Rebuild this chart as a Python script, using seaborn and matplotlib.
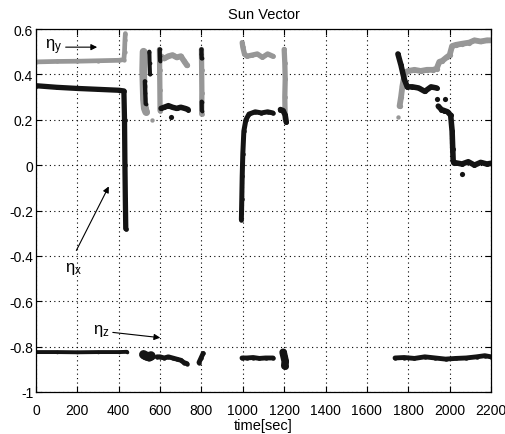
import matplotlib
matplotlib.use("Agg")
import matplotlib.pyplot as plt
import seaborn as sns
import pandas as pd

# ---------------- data ----------------
x_ticks = [0, 200, 400, 600, 800, 1000, 1200, 1400, 1600, 1800, 2000, 2200]
y_ticks = [-1, -0.8, -0.6, -0.4, -0.2, 0, 0.2, 0.4, 0.6]
y_tick_labels = ["-1", "-0.8", "-0.6", "-0.4", "-0.2", "0", "0.2", "0.4", "0.6"]

# eta_x (black)
ex_t1 = [0, 100, 200, 300, 400, 425, 428, 430, 432, 434]
ex_v1 = [0.350, 0.343, 0.338, 0.334, 0.330, 0.327, 0.20, 0.00, -0.15, -0.28]
ex_t2 = [548, 549, 551]
ex_v2 = [0.50, 0.45, 0.40]
ex_t3 = [526, 528, 530]
ex_v3 = [0.37, 0.32, 0.27]
ex_t4 = [598, 599, 600]
ex_v4 = [0.51, 0.48, 0.46]
ex_t5 = [605, 620, 640, 660, 680, 700, 720, 735]
ex_v5 = [0.25, 0.255, 0.262, 0.255, 0.25, 0.255, 0.25, 0.245]
ex_t6 = [800, 800, 801]
ex_v6 = [0.51, 0.49, 0.47]
ex_t7 = [801, 802]
ex_v7 = [0.28, 0.24]
ex_t8 = [993, 995, 997, 1000, 1005, 1015, 1030, 1060, 1090, 1120, 1145]
ex_v8 = [-0.24, -0.15, -0.05, 0.05, 0.15, 0.20, 0.225, 0.235, 0.23, 0.235, 0.23]
ex_t9 = [1182, 1195, 1205, 1210]
ex_v9 = [0.245, 0.24, 0.22, 0.19]
ex_t10 = [1750, 1765, 1780, 1795, 1820, 1850, 1880, 1910, 1937]
ex_v10 = [0.49, 0.44, 0.38, 0.345, 0.345, 0.34, 0.325, 0.345, 0.34]
ex_t11 = [1945, 1960, 1975, 1990, 2005, 2012, 2015, 2017, 2020, 2030, 2060, 2090,
          2120, 2150, 2180, 2200]
ex_v11 = [0.26, 0.245, 0.24, 0.235, 0.22, 0.15, 0.07, 0.02, 0.01, 0.01, 0.005, 0.015,
          0.0, 0.012, 0.005, 0.008]
ex_dot_t = [653, 1940, 1978, 2060]
ex_dot_v = [0.21, 0.29, 0.29, -0.04]

# eta_y (grey)
ey_t1 = [0, 100, 200, 300, 400, 425, 428, 430, 432]
ey_v1 = [0.455, 0.457, 0.458, 0.46, 0.462, 0.465, 0.50, 0.55, 0.58]
ey_t2 = [520, 518, 520, 522, 526, 532]
ey_v2 = [0.50, 0.42, 0.35, 0.29, 0.25, 0.235]
ey_t3 = [597, 598, 599, 600]
ey_v3 = [0.51, 0.42, 0.33, 0.24]
ey_t4 = [603, 620, 640, 660, 680, 700, 715, 730]
ey_v4 = [0.48, 0.47, 0.48, 0.485, 0.475, 0.48, 0.46, 0.44]
ey_t5 = [800, 801, 802, 801]
ey_v5 = [0.51, 0.42, 0.32, 0.225]
ey_t6 = [997, 1000, 1008, 1020, 1045, 1070, 1095, 1120, 1145]
ey_v6 = [0.54, 0.52, 0.49, 0.48, 0.485, 0.49, 0.475, 0.49, 0.48]
ey_t7 = [1200, 1203, 1205, 1203, 1205]
ey_v7 = [0.51, 0.45, 0.38, 0.30, 0.20]
ey_t8 = [1758, 1765, 1772, 1780, 1787, 1800, 1830, 1860, 1890, 1920, 1937, 1950, 1965,
         1985, 2000, 2012, 2030, 2060, 2095, 2120, 2150, 2180, 2200]
ey_v8 = [0.26, 0.30, 0.35, 0.39, 0.41, 0.415, 0.42, 0.415, 0.42, 0.42, 0.425, 0.455, 0.46,
         0.475, 0.485, 0.525, 0.53, 0.535, 0.54, 0.55, 0.545, 0.55, 0.55]
ey_dot_t = [560, 1750]
ey_dot_v = [0.20, 0.21]

# eta_z (black)
ez_t1 = [0, 100, 200, 300, 400, 440]
ez_v1 = [-0.824, -0.824, -0.825, -0.824, -0.824, -0.823]
ez_t2 = [520, 530, 545, 556]
ez_v2 = [-0.835, -0.84, -0.845, -0.84]
ez_t3 = [585, 600, 620, 640, 660, 680, 700, 715, 730]
ez_v3 = [-0.845, -0.845, -0.85, -0.845, -0.85, -0.855, -0.86, -0.87, -0.875]
ez_t4 = [788, 798, 808]
ez_v4 = [-0.87, -0.85, -0.83]
ez_t5 = [996, 1020, 1050, 1080, 1110, 1146]
ez_v5 = [-0.85, -0.85, -0.848, -0.852, -0.85, -0.85]
ez_t6 = [1195, 1200, 1205, 1203]
ez_v6 = [-0.825, -0.845, -0.865, -0.885]
ez_t7 = [1736, 1780, 1830, 1880, 1930, 1980, 2030, 2080, 2130, 2170, 2200]
ez_v7 = [-0.85, -0.848, -0.852, -0.845, -0.85, -0.855, -0.852, -0.85, -0.845, -0.84, -0.845]

BLACK = "#141414"
GREY = "#979797"

segments = [
    # (t, v, colour, linewidth)
    (ey_t1, ey_v1, GREY, 3.4), (ey_t2, ey_v2, GREY, 5.5), (ey_t3, ey_v3, GREY, 3.8),
    (ey_t4, ey_v4, GREY, 4.2), (ey_t5, ey_v5, GREY, 3.8), (ey_t6, ey_v6, GREY, 3.8),
    (ey_t7, ey_v7, GREY, 3.8), (ey_t8, ey_v8, GREY, 4.2),
    (ex_t1, ex_v1, BLACK, 3.8), (ex_t2, ex_v2, BLACK, 3.0), (ex_t3, ex_v3, BLACK, 3.0),
    (ex_t4, ex_v4, BLACK, 3.0), (ex_t5, ex_v5, BLACK, 4.0), (ex_t6, ex_v6, BLACK, 3.0),
    (ex_t7, ex_v7, BLACK, 3.0), (ex_t8, ex_v8, BLACK, 3.6), (ex_t9, ex_v9, BLACK, 4.0),
    (ex_t10, ex_v10, BLACK, 4.0), (ex_t11, ex_v11, BLACK, 4.0),
    (ez_t1, ez_v1, BLACK, 2.8), (ez_t2, ez_v2, BLACK, 6.5), (ez_t3, ez_v3, BLACK, 3.5),
    (ez_t4, ez_v4, BLACK, 3.5), (ez_t5, ez_v5, BLACK, 3.5), (ez_t6, ez_v6, BLACK, 5.5),
    (ez_t7, ez_v7, BLACK, 3.5),
]

# ---------------- figure ----------------
plt.rcParams["font.family"] = ["Liberation Sans", "DejaVu Sans"]
plt.rcParams["axes.unicode_minus"] = False
plt.rcParams["mathtext.fontset"] = "custom"
plt.rcParams["mathtext.rm"] = "Liberation Sans"
plt.rcParams["mathtext.it"] = "Liberation Sans"

fig = plt.figure(figsize=(5.06, 4.35), dpi=100)
ax = fig.add_axes([36 / 506, 1 - 393 / 435, 455 / 506, 363 / 435])

for t, v, col, lw in segments:
    df = pd.DataFrame({"t": t, "v": v})
    sns.lineplot(data=df, x="t", y="v", sort=False, estimator=None, color=col,
                 linewidth=lw, marker="o", markersize=lw * 0.9, markeredgewidth=0,
                 solid_capstyle="round", ax=ax, legend=False)

sns.scatterplot(x=ex_dot_t, y=ex_dot_v, color=BLACK, s=14, linewidth=0, ax=ax)
sns.scatterplot(x=ey_dot_t, y=ey_dot_v, color=GREY, s=10, linewidth=0, ax=ax)

ax.set_xlim(0, 2200)
ax.set_ylim(-1, 0.6)
ax.set_xticks(x_ticks)
ax.set_xticklabels([str(x) for x in x_ticks])
ax.set_yticks(y_ticks)
ax.set_yticklabels(y_tick_labels)
ax.grid(True, color="black", linestyle=(0, (1, 3)), linewidth=0.8)
ax.set_axisbelow(True)
ax.tick_params(direction="in", top=True, right=True, length=4, width=0.8,
               labelsize=10, colors="black")
ax.tick_params(axis="x", pad=8)
ax.tick_params(axis="y", pad=2)
narrow = ["Liberation Sans Narrow", "Liberation Sans", "DejaVu Sans"]
for lab in ax.get_xticklabels() + ax.get_yticklabels():
    lab.set_family(narrow)
for sp in ax.spines.values():
    sp.set_color("black")
    sp.set_linewidth(0.9)

ax.set_title("Sun Vector", fontsize=10.5, pad=8)
ax.set_xlabel("time[sec]", fontsize=10.5, labelpad=1)
ax.set_ylabel("")

arrow = dict(arrowstyle="-|>", color="black", lw=0.8, mutation_scale=9)
ax.annotate("", xy=(309, 0.52), xytext=(130, 0.52), arrowprops=arrow)
ax.text(42, 0.525, r"$\eta_y$", fontsize=12, ha="left", va="center")
ax.annotate("", xy=(358, -0.083), xytext=(189, -0.387), arrowprops=arrow)
ax.text(179, -0.455, r"$\eta_x$", fontsize=12, ha="center", va="center")
ax.annotate("", xy=(614, -0.762), xytext=(358, -0.736), arrowprops=arrow)
ax.text(314, -0.725, r"$\eta_z$", fontsize=12, ha="center", va="center")

fig.savefig("out.png", dpi=100)
